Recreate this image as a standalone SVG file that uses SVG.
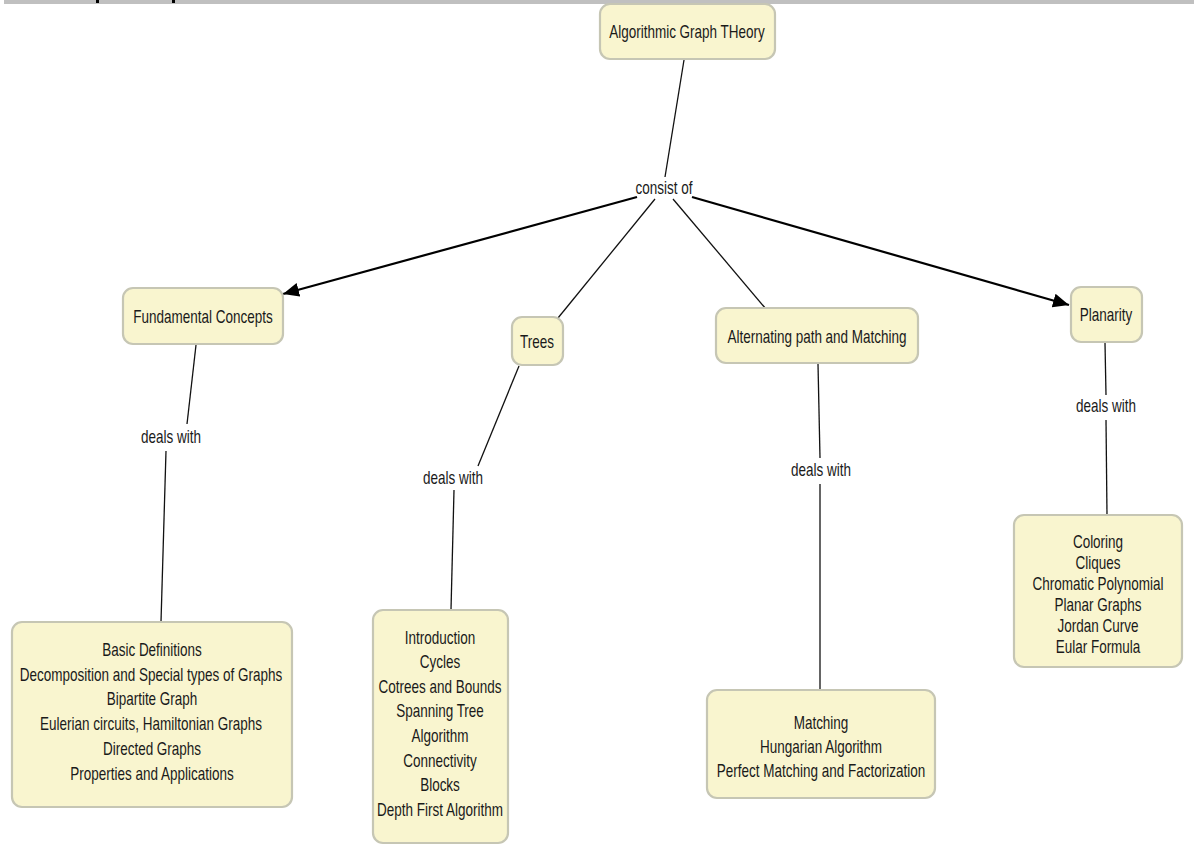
<svg xmlns="http://www.w3.org/2000/svg" width="1194" height="845" viewBox="0 0 1194 845">
  <defs>
    <marker id="arrow" markerUnits="userSpaceOnUse" markerWidth="18" markerHeight="16" refX="16" refY="8" orient="auto">
      <path d="M0,1 L16,8 L0,15 Z" fill="#000"/>
    </marker>
    <style>
      .box { fill: #f9f5cf; stroke: #c6c6b4; stroke-width: 2.2; }
      .txt { font-family: "Liberation Sans", Arial, sans-serif; font-size: 18px; fill: #1a1a1a; text-anchor: middle; }
      .lnk { stroke: #111; stroke-width: 1.3; fill: none; }
      .arr { stroke: #000; stroke-width: 2.2; fill: none; marker-end: url(#arrow); }
    </style>
  </defs>

  <rect width="1194" height="845" fill="#ffffff"/>
  <!-- header strip -->
  <rect x="4" y="0" width="1190" height="4" fill="#c0c0c0"/>
  <rect x="96" y="0" width="3" height="3" fill="#000"/>
  <rect x="172" y="0" width="3" height="3" fill="#000"/>

  <!-- connectors -->
  <g id="connectors">
    <line class="lnk" x1="684" y1="60" x2="665" y2="177"/>
    <line class="arr" x1="637" y1="197" x2="283" y2="294"/>
    <line class="lnk" x1="655" y1="199" x2="558" y2="318"/>
    <line class="lnk" x1="673" y1="199" x2="766" y2="309"/>
    <line class="arr" x1="692" y1="197" x2="1069" y2="305"/>

    <line class="lnk" x1="196" y1="345" x2="187" y2="424"/>
    <line class="lnk" x1="166" y1="451" x2="161" y2="622"/>

    <line class="lnk" x1="519" y1="366" x2="478" y2="466"/>
    <line class="lnk" x1="454" y1="490" x2="451" y2="610"/>

    <line class="lnk" x1="818" y1="364" x2="820" y2="458"/>
    <line class="lnk" x1="820" y1="484" x2="820" y2="690"/>

    <line class="lnk" x1="1105" y1="343" x2="1106" y2="395"/>
    <line class="lnk" x1="1106" y1="420" x2="1107" y2="515"/>
  </g>

  <!-- linking phrases (narrowed lettering via horizontal scale) -->
  <g id="lbl-consist">
    <text class="txt" transform="translate(664 194) scale(0.75 1)">consist of</text>
  </g>
  <g id="lbl-deals-fund">
    <text class="txt" transform="translate(171 443) scale(0.75 1)">deals with</text>
  </g>
  <g id="lbl-deals-trees">
    <text class="txt" transform="translate(453 484) scale(0.75 1)">deals with</text>
  </g>
  <g id="lbl-deals-alt">
    <text class="txt" transform="translate(821 476) scale(0.75 1)">deals with</text>
  </g>
  <g id="lbl-deals-plan">
    <text class="txt" transform="translate(1106 412) scale(0.75 1)">deals with</text>
  </g>

  <!-- concepts -->
  <g id="root">
    <rect class="box" x="600" y="4" width="175" height="55" rx="10"/>
    <text class="txt" transform="translate(687 38) scale(0.75 1)">Algorithmic Graph THeory</text>
  </g>

  <g id="fundamental">
    <rect class="box" x="123" y="288" width="160" height="56" rx="10"/>
    <text class="txt" transform="translate(203 323) scale(0.75 1)">Fundamental Concepts</text>
  </g>

  <g id="trees">
    <rect class="box" x="512" y="317" width="51" height="48" rx="10"/>
    <text class="txt" transform="translate(537 348) scale(0.75 1)">Trees</text>
  </g>

  <g id="alternating">
    <rect class="box" x="716" y="308" width="202" height="55" rx="10"/>
    <text class="txt" transform="translate(817 343) scale(0.75 1)">Alternating path and Matching</text>
  </g>

  <g id="planarity">
    <rect class="box" x="1071" y="287" width="71" height="55" rx="10"/>
    <text class="txt" transform="translate(1106 321) scale(0.75 1)">Planarity</text>
  </g>

  <g id="fundamental-topics">
    <rect class="box" x="12" y="622" width="280" height="185" rx="10"/>
    <text class="txt" transform="translate(152 656) scale(0.75 1)">Basic Definitions</text>
    <text class="txt" transform="translate(151 681) scale(0.75 1)">Decomposition and Special types of Graphs</text>
    <text class="txt" transform="translate(152 705) scale(0.75 1)">Bipartite Graph</text>
    <text class="txt" transform="translate(151 730) scale(0.75 1)">Eulerian  circuits, Hamiltonian Graphs</text>
    <text class="txt" transform="translate(152 755) scale(0.75 1)">Directed Graphs</text>
    <text class="txt" transform="translate(152 780) scale(0.75 1)">Properties and Applications</text>
  </g>

  <g id="trees-topics">
    <rect class="box" x="373" y="610" width="135" height="233" rx="10"/>
    <text class="txt" transform="translate(440 644) scale(0.75 1)">Introduction</text>
    <text class="txt" transform="translate(440 668) scale(0.75 1)">Cycles</text>
    <text class="txt" transform="translate(440 693) scale(0.75 1)">Cotrees and Bounds</text>
    <text class="txt" transform="translate(440 717) scale(0.75 1)">Spanning Tree</text>
    <text class="txt" transform="translate(440 742) scale(0.75 1)">Algorithm</text>
    <text class="txt" transform="translate(440 767) scale(0.75 1)">Connectivity</text>
    <text class="txt" transform="translate(440 791) scale(0.75 1)">Blocks</text>
    <text class="txt" transform="translate(440 816) scale(0.75 1)">Depth First Algorithm</text>
  </g>

  <g id="matching-topics">
    <rect class="box" x="707" y="690" width="228" height="108" rx="10"/>
    <text class="txt" transform="translate(821 729) scale(0.75 1)">Matching</text>
    <text class="txt" transform="translate(821 753) scale(0.75 1)">Hungarian Algorithm</text>
    <text class="txt" transform="translate(821 777) scale(0.75 1)">Perfect Matching and Factorization</text>
  </g>

  <g id="planarity-topics">
    <rect class="box" x="1014" y="515" width="168" height="152" rx="10"/>
    <text class="txt" transform="translate(1098 548) scale(0.75 1)">Coloring</text>
    <text class="txt" transform="translate(1098 569) scale(0.75 1)">Cliques</text>
    <text class="txt" transform="translate(1098 590) scale(0.75 1)">Chromatic Polynomial</text>
    <text class="txt" transform="translate(1098 611) scale(0.75 1)">Planar Graphs</text>
    <text class="txt" transform="translate(1098 632) scale(0.75 1)">Jordan Curve</text>
    <text class="txt" transform="translate(1098 653) scale(0.75 1)">Eular Formula</text>
  </g>
</svg>
